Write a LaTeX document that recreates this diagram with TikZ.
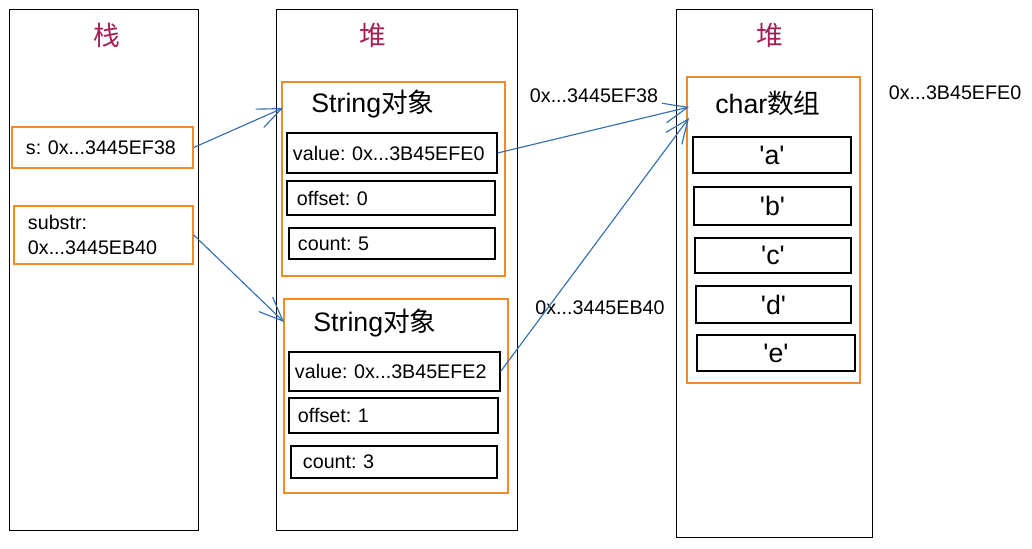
\documentclass[tikz,border=0pt]{standalone}
\usepackage{fontspec}
\setmainfont{Liberation Sans}
\newfontfamily\cjk{Noto Sans CJK SC}
\usetikzlibrary{arrows.meta}
\definecolor{titlered}{RGB}{165,30,85}
\definecolor{boxorange}{RGB}{240,140,40}
\definecolor{arrowblue}{RGB}{50,110,180}
\newcommand{\chq}[1]{\textquotesingle#1\textquotesingle}
\frenchspacing

\begin{document}
\begin{tikzpicture}[x=0.025cm,y=-0.025cm,
		column/.style={draw,line width=0.7pt,inner sep=0pt},
		coltitle/.style={text=titlered,font=\cjk\fontsize{19}{23}\selectfont},
		objbox/.style={draw=boxorange,line width=1pt,inner sep=0pt},
		objtitle/.style={font=\fontsize{19}{23}\selectfont},
		field/.style={draw,line width=0.8pt,inner xsep=0.15cm,inner ysep=0pt,align=left,font=\fontsize{14}{17}\selectfont},
		cell/.style={draw,line width=0.8pt,inner sep=0pt,font=\fontsize{19}{23}\selectfont},
		addr/.style={font=\fontsize{14}{17}\selectfont},
		ref/.style={draw=arrowblue,line width=0.8pt,-{Straight Barb[length=6mm,width=5mm]}}]
	\useasboundingbox[fill=white] (0,0) rectangle (1032,548);
	% columns
	\node[column,minimum width=4.7cm,minimum height=13cm] (stack) at (104,270) {};
	\node[column,minimum width=6cm,minimum height=13cm] (heapA) at (397,270) {};
	\node[column,minimum width=4.875cm,minimum height=13.175cm] (heapB) at (774.5,273.5) {};
	\node[coltitle] (stackTitle) at (107,35) {栈};
	\node[coltitle] (heapATitle) at (373,35) {堆};
	\node[coltitle] (heapBTitle) at (770,35) {堆};
	% stack variables
	\node[objbox,minimum width=4.525cm,minimum height=1.025cm,text width=3.825cm,inner xsep=0.35cm,align=left,font=\fontsize{14}{17}\selectfont] (sVar) at (102.5,147.5) {s: 0x...3445EF38};
	\node[objbox,minimum width=4.475cm,minimum height=1.45cm,text width=3.775cm,inner xsep=0.35cm,align=left,font=\fontsize{14}{17.5}\selectfont] (subVar) at (103.5,235) {substr:\\0x...3445EB40};
	% String objects
	\node[objbox,minimum width=5.575cm,minimum height=4.85cm] (strA) at (393.5,179) {};
	\node[objtitle] (strATitle) at (373,104) {String{\cjk 对象}};
	\node[field,text width=4.95cm,minimum height=1cm] (valA) at (392,153) {value: 0x...3B45EFE0};
	\node[field,text width=4.7cm,inner xsep=0.25cm,minimum height=0.85cm] (offA) at (391,198) {offset: 0};
	\node[field,text width=4.7cm,inner xsep=0.225cm,minimum height=0.775cm] (cntA) at (392,243.5) {count: 5};
	\node[objbox,minimum width=5.6cm,minimum height=4.85cm] (strB) at (396,396) {};
	\node[objtitle] (strBTitle) at (375,323) {String{\cjk 对象}};
	\node[field,text width=4.975cm,minimum height=0.975cm] (valB) at (394.5,371.5) {value: 0x...3B45EFE2};
	\node[field,text width=4.775cm,inner xsep=0.225cm,minimum height=0.875cm] (offB) at (393.5,415.5) {offset: 1};
	\node[field,text width=4.55cm,inner xsep=0.3cm,minimum height=0.8cm] (cntB) at (394,462) {count: 3};
	% char array
	\node[objbox,minimum width=4.325cm,minimum height=7.65cm] (chars) at (773.5,230) {};
	\node[objtitle] (charsTitle) at (768,103) {char{\cjk 数组}};
	\node[cell,minimum width=3.95cm,minimum height=0.9cm] (cellA) at (772,155) {\chq{a}};
	\node[cell,minimum width=3.925cm,minimum height=0.95cm] (cellB) at (772.5,206) {\chq{b}};
	\node[cell,minimum width=3.9cm,minimum height=0.875cm] (cellC) at (773,255.5) {\chq{c}};
	\node[cell,minimum width=3.875cm,minimum height=0.925cm] (cellD) at (773.5,304.5) {\chq{d}};
	\node[cell,minimum width=3.95cm,minimum height=0.9cm] (cellE) at (776,353) {\chq{e}};
	% addresses
	\node[addr] (addrA) at (594,96) {0x...3445EF38};
	\node[addr] (addrB) at (600,308) {0x...3445EB40};
	\node[addr] (addrC) at (955,93) {0x...3B45EFE0};
	% references
	\coordinate (strAin) at (283,108);
	\coordinate (strBin) at (284,322);
	\coordinate (charsInA) at (689,107);
	\coordinate (charsInB) at (689,118);
	\draw[ref] (sVar.east) -- (strAin);
	\draw[ref] (subVar.east) -- (strBin);
	\draw[ref] (valA.east) -- (charsInA);
	\draw[ref] (valB.east) -- (charsInB);
\end{tikzpicture}
\end{document}
